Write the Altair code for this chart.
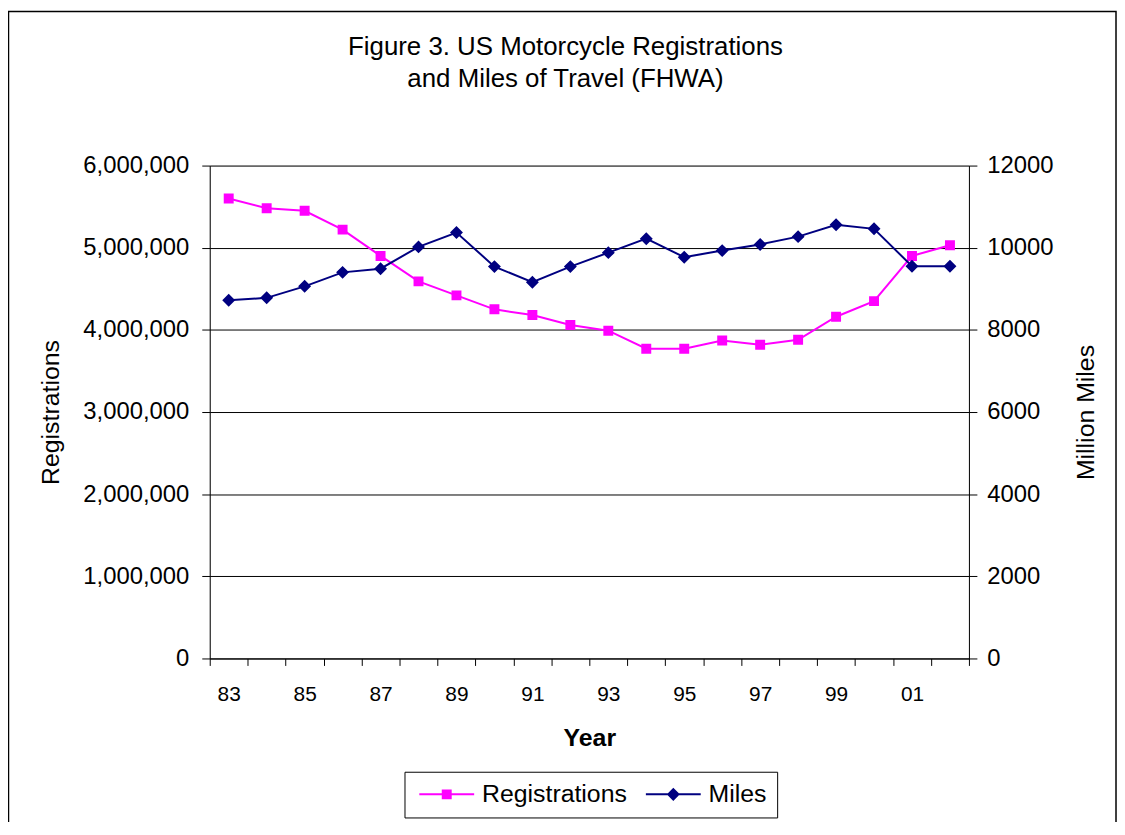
import altair as alt
import pandas as pd

# ---- data ----
years = list(range(1983, 2003))
registrations = [5600000, 5480000, 5450000, 5220000, 4900000, 4590000, 4420000,
                 4250000, 4180000, 4060000, 3990000, 3770000, 3770000, 3870000,
                 3820000, 3880000, 4160000, 4350000, 4900000, 5030000]
miles = [8720, 8780, 9060, 9400, 9490, 10020, 10370, 9540, 9160, 9540,
         9880, 10220, 9770, 9930, 10080, 10270, 10560, 10460, 9550, 9550]

series_names = ["Registrations", "Miles"]
series_colors = ["#FF00FF", "#000080"]
# marker shapes (with a horizontal line that only shows in the legend, where it is stroked)
series_shapes = ["M-6.9,0H6.9M-1,-1H1V1H-1Z",
                 "M-6.9,0H6.9M-1.3,0L0,-1.3L1.3,0L0,1.3Z"]

reg_ticks = [0, 1000000, 2000000, 3000000, 4000000, 5000000, 6000000]
mile_ticks = [0, 2000, 4000, 6000, 8000, 10000, 12000]

title_lines = ["Figure 3. US Motorcycle Registrations", "and Miles of Travel (FHWA)"]

reg_df = pd.DataFrame({"Year": years, "Value": registrations, "Series": series_names[0]})
mil_df = pd.DataFrame({"Year": years, "Value": miles, "Series": series_names[1]})

FONT = "Liberation Sans"

color_scale = alt.Scale(domain=series_names, range=series_colors)
shape_scale = alt.Scale(domain=series_names, range=series_shapes)

stroke_expr = "datum.value == '%s' ? '%s' : '%s'" % (series_names[1], series_colors[1], series_colors[0])

legend = alt.Legend(
    title=None, orient="none", legendX=196, legendY=610, direction="horizontal",
    strokeColor="black", padding=10, columnPadding=14,
    symbolOffset=20, labelOffset=23, symbolSize=64, symbolStrokeWidth=2,
    symbolStrokeColor={"expr": stroke_expr},
    labelFont=FONT, labelFontSize=25, labelColor="black", labelLimit=300,
)

x_enc = alt.X(
    "Year:O", bandPosition=0.5,
    scale=alt.Scale(type="band", paddingInner=0, paddingOuter=0),
    axis=alt.Axis(
        title="Year", labelAngle=0, tickBand="extent", labelOverlap=False,
        labelExpr="datum.value % 2 == 1 ? slice(toString(datum.value), 2) : ''",
        labelFont=FONT, labelFontSize=21, labelColor="black", labelPadding=18,
        tickSize=7, tickColor="black", domainColor="black",
        titleFont=FONT, titleFontSize=25, titleFontWeight="bold", titleColor="black",
        titlePadding=22, grid=False,
    ),
)

reg_y = alt.Y(
    "Value:Q",
    scale=alt.Scale(domain=[0, 6000000], nice=False),
    axis=alt.Axis(
        title="Registrations", orient="left", values=reg_ticks, format=",d",
        grid=True, gridColor="black", gridOpacity=1, gridWidth=1,
        domainColor="black", tickColor="black", tickSize=8, labelPadding=13,
        labelFont=FONT, labelFontSize=24, labelColor="black",
        titleFont=FONT, titleFontSize=25, titleFontWeight="normal", titleColor="black",
        titlePadding=19,
    ),
)

mil_y = alt.Y(
    "Value:Q",
    scale=alt.Scale(domain=[0, 12000], nice=False),
    axis=alt.Axis(
        title="Million Miles", orient="right", values=mile_ticks, format="d",
        grid=False, domainColor="black", tickColor="black", tickSize=8, labelPadding=10,
        labelFont=FONT, labelFontSize=24, labelColor="black",
        titleFont=FONT, titleFontSize=25, titleFontWeight="normal", titleColor="black",
        titleAngle=270, titleBaseline="top", titlePadding=21,
    ),
)

def series_layer(df, y_enc, line_color):
    line = alt.Chart(df).mark_line(strokeWidth=2).encode(
        x=x_enc, y=y_enc,
        color=alt.value(line_color),
    )
    pts = alt.Chart(df).mark_point(filled=True, size=100, opacity=1).encode(
        x=x_enc, y=y_enc,
        color=alt.Color("Series:N", scale=color_scale, legend=legend),
        shape=alt.Shape("Series:N", scale=shape_scale, legend=legend),
    )
    return alt.layer(line, pts)

reg_layer = series_layer(reg_df, reg_y, series_colors[0])
mil_layer = series_layer(mil_df, mil_y, series_colors[1])

border = alt.Chart(pd.DataFrame({"k": [0]})).mark_rect(
    fillOpacity=0, stroke="black", strokeWidth=1.5
).encode(
    x=alt.value(-202.5), x2=alt.value(912), y=alt.value(-155), y2=alt.value(690)
)

chart = alt.layer(reg_layer, mil_layer, border).resolve_scale(
    y="independent"
).properties(
    width=764, height=496,
    autosize=alt.AutoSizeParams(type="none"),
    padding={"left": 203, "top": 156, "right": 149, "bottom": 162},
    title=alt.TitleParams(
        text=title_lines, font=FONT, fontSize=26, fontWeight="normal", color="black",
        anchor="middle", frame="group", dx=-24, offset=0, dy=82, lineHeight=33,
    ),
).configure_view(stroke="transparent").configure(background="white")

chart.save("out.html", embed_options={"renderer": "svg", "actions": False})
